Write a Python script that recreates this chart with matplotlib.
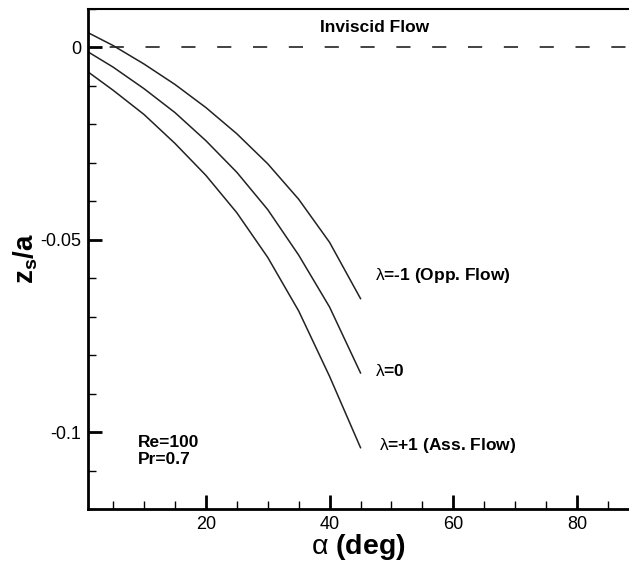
import matplotlib
matplotlib.use("Agg")
import matplotlib.pyplot as plt
from matplotlib.ticker import MultipleLocator, FixedLocator

plt.rcParams['font.family'] = ['Liberation Sans', 'DejaVu Sans']
plt.rcParams['mathtext.fontset'] = 'custom'
plt.rcParams['mathtext.rm'] = 'Liberation Sans'
plt.rcParams['mathtext.it'] = 'Liberation Sans'
plt.rcParams['mathtext.bf'] = 'Liberation Sans:bold'

alpha = [1, 5, 10, 15, 20, 25, 30, 35, 40, 45]
zs_opp = [0.0037, 0.0004, -0.0044, -0.0097, -0.0157, -0.0225, -0.0303, -0.0395, -0.0507, -0.0653]
zs_zero = [-0.0013, -0.0052, -0.0108, -0.0170, -0.0243, -0.0325, -0.0422, -0.0540, -0.0675, -0.0846]
zs_ass = [-0.0065, -0.0112, -0.0175, -0.0250, -0.0333, -0.0430, -0.0546, -0.0685, -0.0855, -0.1040]
inviscid_y = 0.0

xticks = [20, 40, 60, 80]
yticks = [0, -0.05, -0.1]
yticklabels = ['0', '-0.05', '-0.1']

fig = plt.figure(figsize=(6.29, 5.65), dpi=100)
ax = fig.add_axes([0.1404, 0.0986, 0.8596, 0.8863])

for ys in (zs_opp, zs_zero, zs_ass):
    ax.plot(alpha, ys, color='#222222', lw=1.1)
ax.axhline(inviscid_y, color='#222222', lw=1.2, linestyle=(8.5, (8.5, 13)))

ax.set_xlim(1, 88.4)
ax.set_ylim(-0.12, 0.01)

ax.xaxis.set_major_locator(FixedLocator(xticks))
ax.xaxis.set_minor_locator(MultipleLocator(5))
ax.yaxis.set_major_locator(FixedLocator(yticks))
ax.set_yticklabels(yticklabels)
ax.yaxis.set_minor_locator(MultipleLocator(0.01))
ax.tick_params(which='major', direction='in', length=10, width=2, labelsize=13, pad=5)
ax.tick_params(which='minor', direction='in', length=5.5, width=1)
ax.tick_params(top=False, right=False, which='both')

ax.spines['right'].set_visible(False)
ax.spines['left'].set_linewidth(2)
ax.spines['bottom'].set_linewidth(2)
ax.spines['top'].set_linewidth(1.5)

ax.set_xlabel(r'$\alpha$ (deg)', fontsize=20.5, fontweight='bold', labelpad=-1)
ax.set_ylabel(r'$\mathbf{z_s/a}$', fontsize=20, labelpad=0)

fs = 12.5
ax.text(38.4, 0.0052, 'Inviscid Flow', fontsize=fs, fontweight='bold', ha='left', va='center')
ax.text(47.3, -0.0594, r'$\lambda$=-1 (Opp. Flow)', fontsize=fs, fontweight='bold', ha='left', va='center')
ax.text(47.3, -0.0840, r'$\lambda$=0', fontsize=fs, fontweight='bold', ha='left', va='center')
ax.text(48.0, -0.1034, r'$\lambda$=+1 (Ass. Flow)', fontsize=fs, fontweight='bold', ha='left', va='center')
ax.text(9.0, -0.1048, 'Re=100\nPr=0.7', fontsize=fs, fontweight='bold', ha='left', va='center', linespacing=1.2)

fig.savefig('out.png', dpi=100)
